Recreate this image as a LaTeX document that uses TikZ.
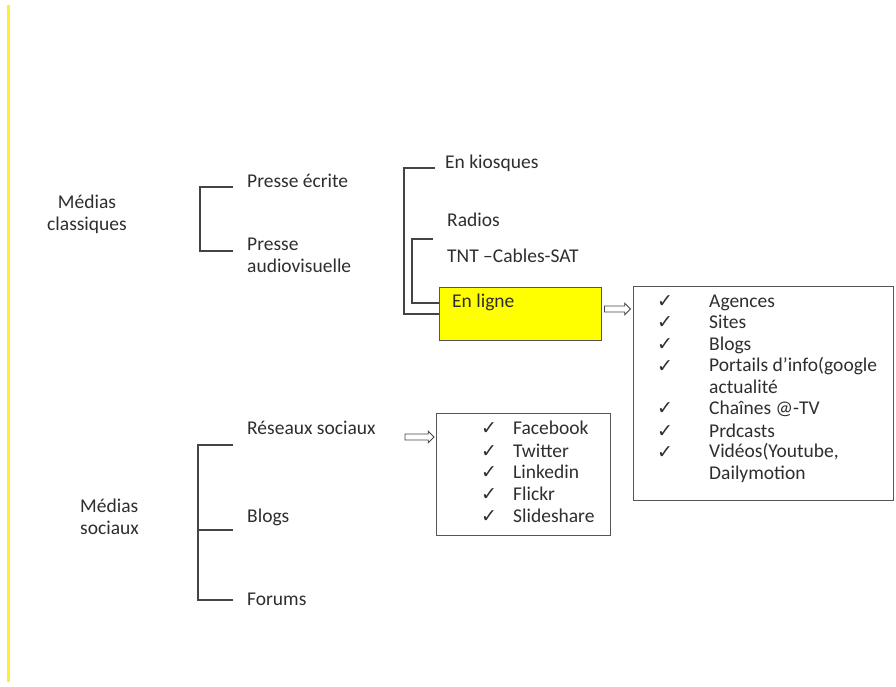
\documentclass[tikz,border=0pt]{standalone}
\usepackage{fontspec}
\setmainfont{Carlito}
\newfontfamily\symfont{DejaVu Sans}
\usetikzlibrary{shapes.arrows}
\definecolor{txt}{HTML}{2E2E2E}
\definecolor{ln}{HTML}{444444}
\definecolor{yel}{HTML}{FFFF00}
\definecolor{yline}{HTML}{FFEE33}
\definecolor{boxln}{HTML}{555555}
\tikzset{
  lbl/.style={anchor=base west, inner sep=0pt, text=txt, font=\fontsize{19.5}{22}\selectfont, align=left},
  chk/.style={anchor=base west, inner sep=0pt, text=txt, font=\symfont\fontsize{19}{22}\selectfont},
  brk/.style={draw=ln, line width=1.3pt},
  listbox/.style={draw=boxln, line width=1pt},
  hollowarrow/.style={single arrow, draw=ln, fill=white, line width=0.8pt, inner xsep=0pt, inner ysep=2.6pt,
     minimum height=26pt, minimum width=11pt, single arrow head extend=2.8pt, single arrow head indent=0pt}
}
\begin{document}
\begin{tikzpicture}[x=1pt,y=-1pt]
\useasboundingbox (0,0) rectangle (896,687);
\fill[white] (0,0) rectangle (896,687);
% left yellow rule
\draw[yline, line width=3pt] (8,5) -- (8,682);

% Médias classiques (base anchor = last line baseline)
\node[lbl, anchor=base, align=center] (mc) at (87,230) {Médias\\classiques};
\node[lbl] (pe) at (247,188) {Presse écrite};
\node[lbl] (pa) at (247,272) {Presse\\audiovisuelle};
\coordinate (b1t) at (233,187);
\coordinate (b1b) at (233,251);
\draw[brk] (b1t) -- (200,187) -- (200,251) -- (b1b);

% second level
\node[lbl] (ek) at (445,168) {En kiosques};
\node[lbl] (ra) at (447,226) {Radios};
\node[lbl] (tnt) at (447,262) {TNT –Cables-SAT};
\node[draw=boxln, fill=yel, line width=1pt, minimum width=162pt, minimum height=53pt, inner sep=0pt,
      anchor=north west] (el) at (439,287) {};
\node[lbl] (elt) at (452,307) {En ligne};
\coordinate (b2t) at (435,168);
\coordinate (b3t) at (433,239);
\draw[brk] (b2t) -- (404,168) -- (404,314) -- (el.west |- 0,314);
\draw[brk] (b3t) -- (412,239) -- (412,303) -- (el.west |- 0,303);

% arrow to big list
\node[listbox, minimum width=260pt, minimum height=214pt, inner sep=0pt, anchor=north west] (bl) at (633,286) {};
\node[hollowarrow] (a1) at (616,309) {};

\foreach \y in {307,328,350,372,414,437,458}{
  \node[chk] at (657,\y) {✓};
}
\node[lbl] (ag) at (709,307) {Agences};
\node[lbl] (si) at (709,328) {Sites};
\node[lbl] (bg) at (709,350) {Blogs};
\node[lbl] (po) at (709,393) {Portails d’info(google\\actualité};
\node[lbl] (ch) at (709,414) {Chaînes @-TV};
\node[lbl] (pr) at (709,437) {Prdcasts};
\node[lbl] (vi) at (709,479) {Vidéos(Youtube,\\Dailymotion};

% Médias sociaux
\node[lbl] (ms) at (80,534) {Médias\\sociaux};
\node[lbl] (rs) at (247,434) {Réseaux sociaux};
\node[lbl] (bl2) at (247,522) {Blogs};
\node[lbl] (fo) at (247,605) {Forums};
\coordinate (b4t) at (233,445);
\coordinate (b4m) at (233,530);
\coordinate (b4b) at (233,600);
\draw[brk] (b4t) -- (198,445) -- (198,600) -- (b4b);
\draw[brk] (198,530) -- (b4m);

% small list box
\node[listbox, minimum width=174pt, minimum height=122pt, inner sep=0pt, anchor=north west] (sb) at (436,413) {};
\node[hollowarrow, minimum height=29pt] (a2) at (418,437) {};
\foreach \y in {434,457,478,500,522}{
  \node[chk] at (481,\y) {✓};
}
\node[lbl] (fb) at (513,434) {Facebook};
\node[lbl] (tw) at (513,457) {Twitter};
\node[lbl] (li) at (513,478) {Linkedin};
\node[lbl] (fl) at (513,500) {Flickr};
\node[lbl] (sl) at (513,522) {Slideshare};
\end{tikzpicture}
\end{document}
